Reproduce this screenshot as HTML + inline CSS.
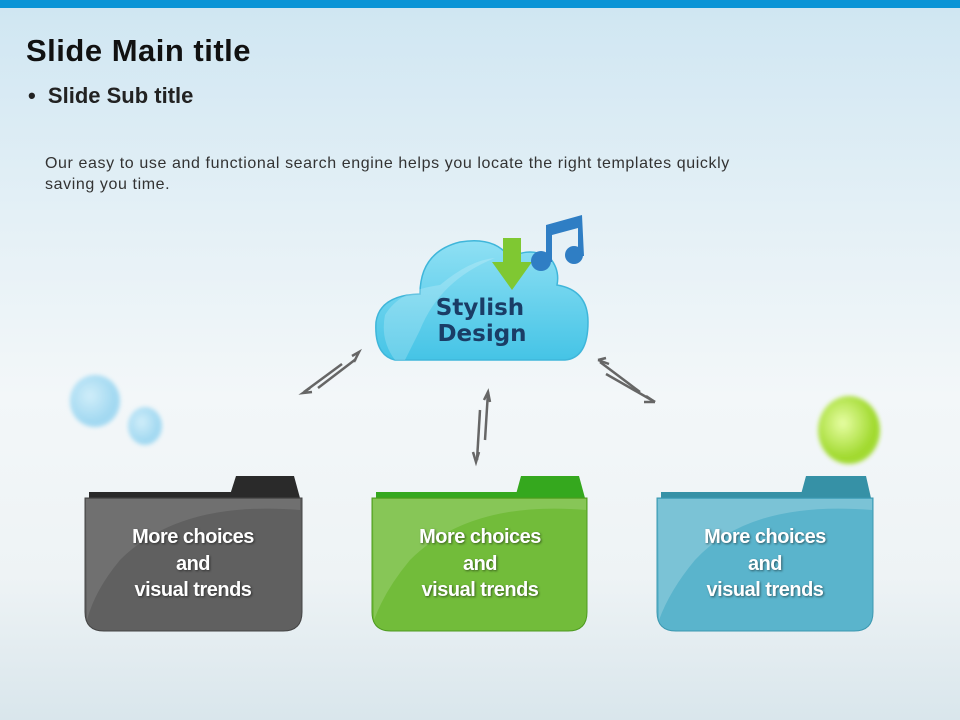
<!DOCTYPE html>
<html><head><meta charset="utf-8"><style>
body{margin:0;width:960px;height:720px;overflow:hidden;font-family:"Liberation Sans",sans-serif;}
#bg{position:absolute;left:0;top:0;width:960px;height:720px;background:linear-gradient(#cfe6f2 0%,#e4f0f6 30%,#f3f7f9 55%,#eef3f5 80%,#d9e6ec 100%);}
.t{position:absolute;color:#111;}
.ft{position:absolute;width:216px;text-align:center;color:#fff;font-weight:bold;font-size:20px;line-height:26.5px;text-shadow:1px 1px 2px rgba(0,0,0,.5);letter-spacing:-0.5px}
</style></head><body>
<div id="bg"></div>
<div style="position:absolute;left:0;top:0;width:960px;height:8px;background:#0a94d6"></div>
<div class="t" style="left:26px;top:33px;font-size:31px;font-weight:bold;letter-spacing:0.5px">Slide Main title</div>
<div class="t" style="left:28px;top:83px;font-size:22px;font-weight:bold;color:#222">•&nbsp; Slide Sub title</div>
<div class="t" style="left:45px;top:153px;font-size:16px;line-height:21px;color:#333;letter-spacing:0.6px">Our easy to use and functional search engine helps you locate the right templates quickly<br>saving you time.</div>
<svg width="960" height="720" style="position:absolute;left:0;top:0">
<defs>
<linearGradient id="cl" x1="0" y1="0" x2="0" y2="1"><stop offset="0" stop-color="#8fe0f4"/><stop offset="1" stop-color="#45c4e6"/></linearGradient>
<radialGradient id="bl" cx=".4" cy=".4"><stop offset="0" stop-color="#c8ecfa"/><stop offset="1" stop-color="#8fd2f0"/></radialGradient>
<radialGradient id="gb" cx=".4" cy=".4"><stop offset="0" stop-color="#e6ff9a"/><stop offset="1" stop-color="#9ad81c"/></radialGradient>
<filter id="bf"><feGaussianBlur stdDeviation="2"/></filter>
</defs>
<ellipse cx="95" cy="401" rx="25" ry="26" fill="url(#bl)" opacity=".8" filter="url(#bf)"/>
<ellipse cx="145" cy="426" rx="17" ry="19" fill="url(#bl)" opacity=".8" filter="url(#bf)"/>
<ellipse cx="849" cy="430" rx="31" ry="34" fill="url(#gb)" opacity=".9" filter="url(#bf)"/>
<path d="M395 360 Q374 355 376 322 Q380 295 420 294 Q420 252 460 242 Q495 236 510 258 Q530 246 550 258 Q560 270 557 285 Q588 290 588 322 Q588 358 565 360 Z" fill="url(#cl)" stroke="#3fb6da" stroke-width="1.5"/>
<path d="M395 360 Q380 340 385 315 Q400 290 440 285 Q470 260 495 258 Q440 280 420 330 Q410 350 405 360 Z" fill="#fff" opacity=".2"/>
<polygon points="503,238 521,238 521,262 532,262 512,290 492,262 503,262" fill="#7fc832"/>
<path d="M546 225 L582 215 L584 256 L578 256 L578 228 L552 235 L552 262 L546 262 Z" fill="#2f7ec4"/>
<circle cx="541" cy="261" r="10" fill="#2f7ec4"/><circle cx="574" cy="255" r="9" fill="#2f7ec4"/>
<text x="480" y="315" font-family="DejaVu Sans,sans-serif" font-weight="bold" font-size="23" fill="#1a3d66" text-anchor="middle">Stylish</text>
<text x="482" y="341" font-family="DejaVu Sans,sans-serif" font-weight="bold" font-size="23" fill="#1a3d66" text-anchor="middle">Design</text>
<g stroke="#666" stroke-width="2.5" fill="none">
<path d="M304 392 L342 364"/><path d="M310 388 L303 393 L312 392"/>
<path d="M318 388 L356 359"/><path d="M352 356 L359 352 L354 362"/>
<path d="M477 460 L480 410"/><path d="M473 452 L476 462 L479 452"/>
<path d="M485 440 L488 392"/><path d="M484 400 L488 392 L490 402"/>
<path d="M600 362 L640 392"/><path d="M598 360 L609 364 M598 360 L606 358"/>
<path d="M606 374 L655 402"/><path d="M655 402 L646 396 M655 402 L644 402"/>
</g>
<g>
<path d="M229 498 L236 476 L294 476 L300 498 Z" fill="#2a2a2a"/><rect x="89" y="492" width="145" height="8" fill="#2a2a2a"/>
<path d="M85 498 L302 498 L302 612 Q302 631 283 631 L104 631 Q85 631 85 612 Z" fill="#606060" stroke="#444"/>
<path d="M86 499 L300 499 L300 510 Q180 500 120 560 Q95 590 87 620 Z" fill="#fff" opacity=".1"/>
</g>
<g>
<path d="M515 498 L521 476 L579 476 L585 498 Z" fill="#35a81e"/><rect x="376" y="492" width="145" height="8" fill="#35a81e"/>
<path d="M372 498 L587 498 L587 612 Q587 631 568 631 L391 631 Q372 631 372 612 Z" fill="#72bc3a" stroke="#4d9a20"/>
<path d="M373 499 L586 499 L586 510 Q470 500 410 560 Q385 590 374 620 Z" fill="#fff" opacity=".15"/>
</g>
<g>
<path d="M800 498 L806 476 L866 476 L871 498 Z" fill="#3691a6"/><rect x="661" y="492" width="145" height="8" fill="#3691a6"/>
<path d="M657 498 L873 498 L873 612 Q873 631 854 631 L676 631 Q657 631 657 612 Z" fill="#5ab4cc" stroke="#3c98b0"/>
<path d="M658 499 L872 499 L872 510 Q750 500 695 560 Q670 590 659 620 Z" fill="#fff" opacity=".2"/>
</g>
</svg>
<div class="ft" style="left:85px;top:524px">More choices<br>and<br>visual trends</div>
<div class="ft" style="left:372px;top:524px">More choices<br>and<br>visual trends</div>
<div class="ft" style="left:657px;top:524px">More choices<br>and<br>visual trends</div>
</body></html>
